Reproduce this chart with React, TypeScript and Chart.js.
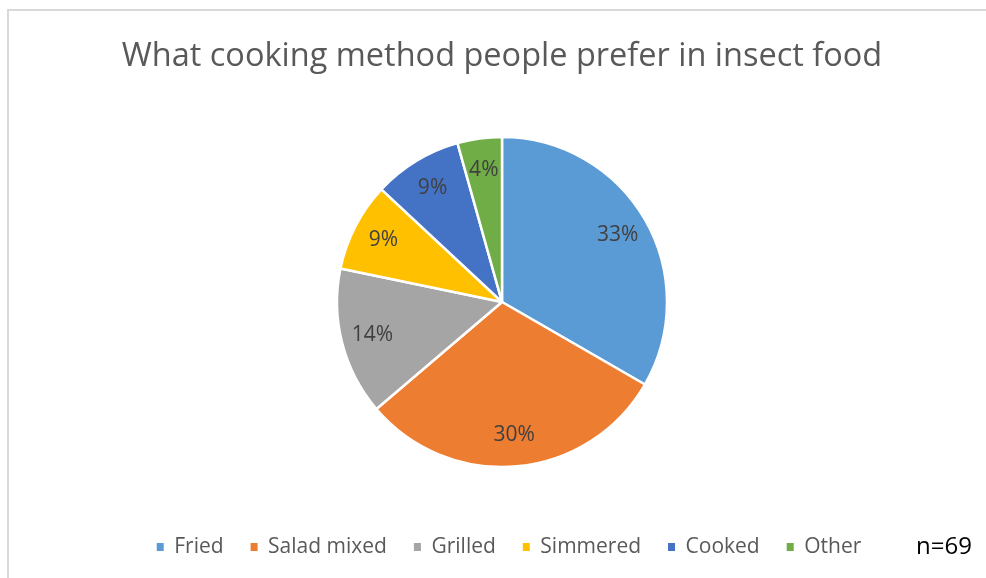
import React, { useEffect, useRef } from "react";
import { Chart, registerables } from "chart.js";

Chart.register(...registerables);

const categories = ["Fried", "Salad mixed", "Grilled", "Simmered", "Cooked", "Other"];
const counts = [23, 21, 10, 6, 6, 3];
const colors = ["#5B9BD5", "#ED7D31", "#A5A5A5", "#FFC000", "#4472C4", "#70AD47"];
const titleText = "What cooking method people prefer in insect food";
const sampleNote = "n=69";

const FONT = "'Open Sans', Lato, sans-serif";

const framePlugin = {
  id: "frame",
  beforeDraw(chart: any) {
    const { ctx } = chart;
    ctx.save();
    ctx.fillStyle = "#ffffff";
    ctx.fillRect(0, 0, chart.width, chart.height);
    ctx.strokeStyle = "#d9d9d9";
    ctx.lineWidth = 2;
    ctx.beginPath();
    ctx.moveTo(8, chart.height);
    ctx.lineTo(8, 10);
    ctx.lineTo(chart.width, 10);
    ctx.stroke();
    ctx.restore();
  },
  afterLayout(chart: any) {
    // nudge the legend block slightly right, as in the reference
    if (chart.legend) {
      chart.legend.left += 7;
      chart.legend.right += 7;
    }
  },
  afterDraw(chart: any) {
    const { ctx } = chart;
    ctx.save();
    ctx.fillStyle = "#000000";
    ctx.font = `24px ${FONT}`;
    ctx.textAlign = "center";
    ctx.textBaseline = "middle";
    ctx.fillText(sampleNote, 944, 547);
    ctx.restore();
  },
};

const pctLabelPlugin = {
  id: "pctLabels",
  afterDatasetsDraw(chart: any) {
    const { ctx } = chart;
    const meta = chart.getDatasetMeta(0);
    const data = chart.data.datasets[0].data as number[];
    const total = data.reduce((a, b) => a + b, 0);
    ctx.save();
    ctx.fillStyle = "#404040";
    ctx.font = `21px ${FONT}`;
    ctx.textAlign = "center";
    ctx.textBaseline = "middle";
    meta.data.forEach((arc: any, i: number) => {
      const p = arc.getProps(["x", "y", "startAngle", "endAngle", "outerRadius"], true);
      const mid = (p.startAngle + p.endAngle) / 2;
      const r = p.outerRadius * 0.81;
      const x = p.x + Math.cos(mid) * r;
      const y = p.y + Math.sin(mid) * r;
      ctx.fillText(Math.round((data[i] / total) * 100) + "%", x, y);
    });
    ctx.restore();
  },
};

export default function App() {
  const ref = useRef<HTMLCanvasElement>(null);
  useEffect(() => {
    if (!ref.current) return;
    const chart = new Chart(ref.current, {
      type: "pie",
      data: {
        labels: categories,
        datasets: [
          {
            data: counts,
            backgroundColor: colors,
            borderColor: "#ffffff",
            borderWidth: 2.5,
            radius: 165,
          },
        ],
      },
      options: {
        responsive: false,
        animation: false,
        layout: { padding: { left: 18, right: 0, top: 0, bottom: 10.5 } },
        plugins: {
          title: {
            display: true,
            text: titleText,
            color: "#595959",
            font: { family: FONT, size: 32.5, weight: "normal", lineHeight: 1.2 },
            padding: { top: 37, bottom: 18.5 },
          },
          legend: {
            position: "bottom",
            labels: {
              boxWidth: 7,
              boxHeight: 8,
              padding: 27,
              color: "#595959",
              font: { family: FONT, size: 21 },
              generateLabels(chart: any) {
                const items = Chart.overrides.pie.plugins.legend.labels.generateLabels(chart);
                return items.map((it: any) => ({ ...it, lineWidth: 0, strokeStyle: "transparent" }));
              },
            },
          },
          tooltip: { enabled: false },
        },
      },
      plugins: [framePlugin, pctLabelPlugin],
    });
    return () => chart.destroy();
  }, []);
  return (
    <div style={{ position: "fixed", left: 0, top: 0, width: 986, height: 578, background: "#fff" }}>
      <canvas ref={ref} width={986} height={578} style={{ display: "block" }} />
    </div>
  );
}
